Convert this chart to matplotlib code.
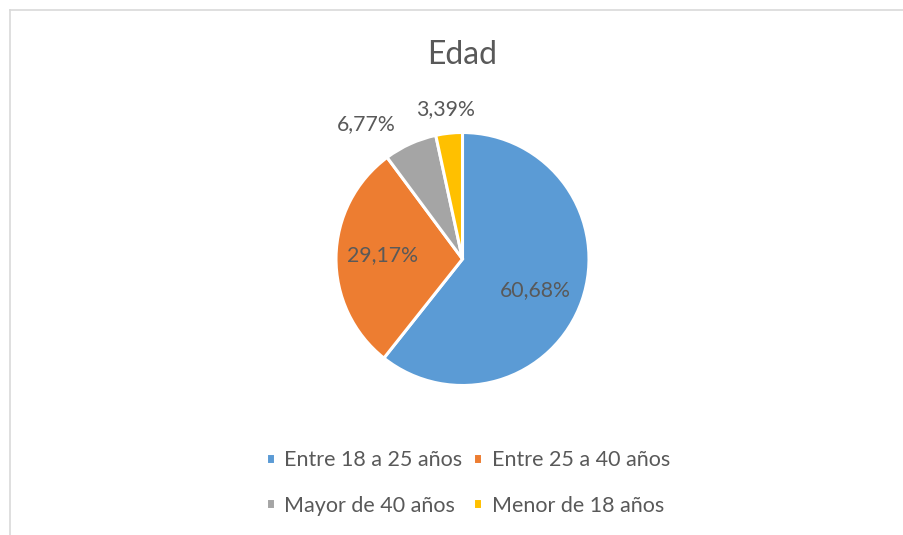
import matplotlib
matplotlib.use("Agg")
import matplotlib.pyplot as plt
from matplotlib.lines import Line2D
import numpy as np

title = "Edad"
categories = ["Entre 18 a 25 años", "Entre 25 a 40 años", "Mayor de 40 años", "Menor de 18 años"]
values = [60.68, 29.17, 6.77, 3.39]
labels_txt = ["60,68%", "29,17%", "6,77%", "3,39%"]
colors = ["#5B9BD5", "#ED7D31", "#A5A5A5", "#FFC000"]

# label placement (radius factor, angle tweak in degrees)
label_r = [0.63, 0.63, 1.31, 1.19]
label_dang = [-4, -2, 11, 0.5]

plt.rcParams['font.family'] = ['Lato', 'DejaVu Sans']
txtcol = "#595959"

W, H = 904, 535
fig = plt.figure(figsize=(W / 100, H / 100), dpi=100)
fig.patch.set_facecolor("white")

# chart frame (left & top visible)
fig.add_artist(Line2D([9.5 / W, 9.5 / W], [0, 1 - 10 / H], transform=fig.transFigure, color="#d9d9d9", lw=1.2))
fig.add_artist(Line2D([9.5 / W, 1], [1 - 10 / H, 1 - 10 / H], transform=fig.transFigure, color="#d9d9d9", lw=1.2))

cx, cy, r = 462.5, 259, 126.5
ax = fig.add_axes([(cx - r) / W, 1 - (cy + r) / H, 2 * r / W, 2 * r / H])
wedges, _ = ax.pie(values, colors=colors, startangle=90, counterclock=False,
                   wedgeprops=dict(edgecolor="white", linewidth=2.2))
ax.set_xlim(-1, 1)
ax.set_ylim(-1, 1)
ax.set_aspect("equal")
ax.axis("off")

for w, t, rr, da in zip(wedges, labels_txt, label_r, label_dang):
    mid = np.deg2rad((w.theta1 + w.theta2) / 2 + da)
    ax.text(rr * np.cos(mid), rr * np.sin(mid), t, ha="center", va="center",
            fontsize=15.3, color=txtcol)

fig.text(cx / W, 1 - 55 / H, title, ha="center", va="center", fontsize=23, color=txtcol)

# row-wise legend order (matplotlib fills columns first)
order = [0, 2, 1, 3]
leg = fig.legend([wedges[i] for i in order], [categories[i] for i in order],
                 loc="center", bbox_to_anchor=(468 / W, 1 - 483 / H),
                 ncol=2, frameon=False, fontsize=15.5, labelcolor=txtcol,
                 handlelength=0.4, handleheight=0.4, handletextpad=0.45,
                 columnspacing=0.5, labelspacing=1.17)

fig.savefig("out.png", dpi=100)
